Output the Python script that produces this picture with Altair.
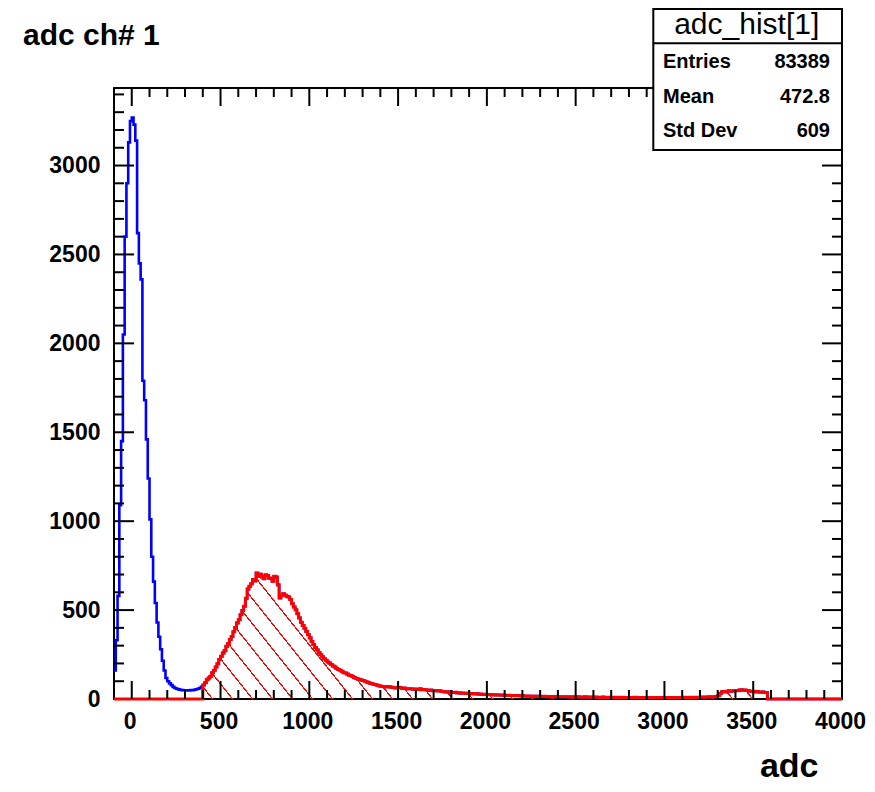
import math
import altair as alt
import pandas as pd

# ---------------- data ----------------
bin_start = -100
bin_width = 10
counts = [
    160, 330, 580, 1090, 1450, 2050, 2600, 2900, 3130, 3250,      # -100 .. -10
    3270, 3230, 3140, 2620, 2450, 2360, 1790, 1680, 1460, 1240,   # 0 .. 90
    1010, 800, 660, 540, 430, 350, 280, 215, 160, 118,            # 100 ..
    100, 88, 78, 68, 62, 58, 54, 52, 50, 49,                      # 200 ..
    48, 49, 48, 50, 50, 52, 55, 58, 62, 68,                       # 300 ..
    79, 92, 108, 118, 128, 148, 162, 180, 198, 222,               # 400 ..
    240, 258, 272, 296, 312, 334, 352, 378, 402, 428,             # 500 ..
    446, 474, 498, 522, 566, 618, 634, 648, 672, 664,             # 600 ..
    708, 690, 702, 686, 676, 698, 694, 680, 678, 662,             # 700 ..
    690, 686, 642, 568, 582, 592, 584, 578, 574, 560,             # 800 ..
    536, 518, 502, 480, 456, 432, 414, 398, 380, 362,             # 900 ..
    344, 324, 306, 290, 276, 262, 250, 238, 226, 218,             # 1000 ..
    208, 202, 194, 186, 180, 172, 166, 162, 156, 148,             # 1100 ..
    146, 140, 134, 132, 126, 120, 116, 112, 110, 106,             # 1200 ..
    104, 100, 96, 92, 88, 86, 82, 80, 77, 74,                     # 1300 ..
    72, 70, 69, 68, 70, 68, 66, 64, 62, 63,                       # 1400 ..
    66, 63, 60, 62, 59, 58, 57, 58, 55, 56,                       # 1500 ..
    54, 55, 57, 52, 54, 52, 50, 48, 50, 47,                       # 1600 ..
    46, 48, 45, 46, 43, 42, 40, 41, 38, 40,                       # 1700 ..
    37, 36, 38, 34, 35, 33, 34, 32, 31, 33,                       # 1800 ..
    30, 31, 29, 28, 30, 27, 28, 26, 27, 25,                       # 1900 ..
    26, 24, 25, 23, 24, 22, 23, 22, 21, 22,                       # 2000 ..
    21, 20, 21, 19, 20, 19, 18, 19, 18, 17,                       # 2100 ..
    18, 17, 16, 17, 16, 15, 16, 15, 16, 14,                       # 2200 ..
    15, 14, 15, 14, 13, 14, 13, 14, 13, 12,                       # 2300 ..
    13, 12, 13, 12, 13, 12, 11, 12, 11, 12,                       # 2400 ..
    11, 12, 11, 10, 11, 12, 10, 11, 10, 11,                       # 2500 ..
    10, 11, 10, 9, 10, 11, 9, 10, 9, 10,                          # 2600 ..
    9, 10, 9, 10, 8, 9, 10, 9, 8, 9,                              # 2700 ..
    9, 8, 9, 10, 8, 9, 8, 9, 8, 9,                                # 2800 ..
    8, 9, 8, 9, 8, 8, 9, 8, 9, 8,                                 # 2900 ..
    9, 8, 9, 8, 9, 9, 8, 9, 8, 9,                                 # 3000 ..
    9, 10, 9, 9, 10, 9, 10, 9, 10, 10,                            # 3100 ..
    10, 11, 10, 11, 11, 12, 11, 12, 13, 14,                       # 3200 ..
    18, 30, 40, 42, 40, 44, 46, 43, 45, 47,                       # 3300 ..
    48, 46, 50, 52, 49, 51, 48, 46, 44, 42,                       # 3400 ..
    44, 40, 42, 39, 38, 40, 37, 36, 0, 0,                         # 3500 ..
    0, 0, 0, 0, 0, 0, 0, 0, 0, 0,                                 # 3600 ..
    0, 0, 0, 0, 0, 0, 0, 0, 0, 0,                                 # 3700 ..
    0, 0, 0, 0, 0, 0, 0, 0, 0, 0,                                 # 3800 ..
    0, 0, 0, 0, 0, 0, 0, 0, 0, 0,                                 # 3900 ..
]
red_from = 400      # start of the red (hatched) selection
red_to = 3580       # end of the red selection

x_domain = [-100, 4000]
y_domain = [0, 3436]
x_label_values = [0, 500, 1000, 1500, 2000, 2500, 3000, 3500, 4000]
y_label_values = [0, 500, 1000, 1500, 2000, 2500, 3000]
x_major = [0, 500, 1000, 1500, 2000, 2500, 3000, 3500]
y_major = [500, 1000, 1500, 2000, 2500, 3000]
x_minor = [v for v in range(100, 4000, 100) if v % 500]
y_minor = [v for v in range(100, 3436, 100) if v % 500]

title_text = "adc ch# 1"
x_title = "adc"
stats_title = "adc_hist[1]"
stats_names = ["Entries", "Mean", "Std Dev"]
stats_values = ["83389", "472.8", "609"]

# ---------------- layout / style ----------------
PW, PH = 728, 611
FONT = "Liberation Sans"
BLUE = "#0000ff"
RED = "#ff0000"
CLEAR = "rgba(255,0,0,0)"

n = len(counts)
edges = [bin_start + bin_width * i for i in range(n)]
x_end = bin_start + bin_width * n
blue_df = pd.DataFrame({"x": edges + [x_end], "y": counts + [counts[-1]]})
red_vals = [c if red_from <= e < red_to else 0 for e, c in zip(edges, counts)]
red_line_df = pd.DataFrame({"x": edges + [x_end], "y": red_vals + [red_vals[-1]]})
area_x = [e for e in edges if red_from <= e < red_to]
area_y = [c for e, c in zip(edges, counts) if red_from <= e < red_to]
red_area_df = pd.DataFrame({"x": area_x + [red_to], "y": area_y + [area_y[-1]]})

# hatch pattern as a hard-stop linear gradient (objectBoundingBox units)
sx = PW / (x_domain[1] - x_domain[0])
sy = PH / (y_domain[1] - y_domain[0])
aw = (red_to - red_from) * sx
ah = max(area_y) * sy
m = 1.25          # slope of hatch lines (down-right)
spacing = 20.0    # horizontal spacing of hatch lines, px
lw = 1.3          # hatch line thickness, px
phase = 9.0
span = m * aw + ah
k = span / (m * m * aw * aw + ah * ah)
gx2 = k * m * aw
gy2 = 1 - k * ah
period = m * spacing / span
thick = lw * math.sqrt(m * m + 1) / span
stops = [alt.GradientStop(color=CLEAR, offset=0)]
p = m * phase / span
while p + thick < 1:
    a, b = round(p, 6), round(p + thick, 6)
    stops += [alt.GradientStop(color=CLEAR, offset=a), alt.GradientStop(color=RED, offset=a),
              alt.GradientStop(color=RED, offset=b), alt.GradientStop(color=CLEAR, offset=b)]
    p += period
stops.append(alt.GradientStop(color=CLEAR, offset=1))
hatch = alt.LinearGradient(gradient="linear", stops=stops, x1=0, y1=1, x2=gx2, y2=gy2)

xs = alt.Scale(domain=x_domain, nice=False, zero=False)
ys = alt.Scale(domain=y_domain, nice=False, zero=False)

x_axis = alt.Axis(values=x_label_values, format="d", title=x_title, ticks=False, domain=False, grid=False,
                  labelFont=FONT, labelFontWeight="bold", labelFontSize=23, labelColor="black",
                  labelPadding=11, labelOffset=-2, labelFlush=False, labelOverlap=False,
                  titleFont=FONT, titleFontWeight="bold", titleFontSize=34, titleColor="black",
                  titleX=704, titleY=77, titleAlign="right", titleBaseline="alphabetic",
                  titleAnchor="end")
y_axis = alt.Axis(values=y_label_values, format="d", title="", ticks=False, domain=False, grid=False,
                  labelFont=FONT, labelFontWeight="bold", labelFontSize=23, labelColor="black",
                  labelPadding=14, labelOverlap=False)

X = lambda f: alt.X(f, scale=xs, axis=x_axis)
Y = lambda f: alt.Y(f, scale=ys, axis=y_axis)

blue_line = alt.Chart(blue_df).mark_line(interpolate="step-after", color=BLUE, strokeWidth=2.6).encode(
    x=X("x:Q"), y=Y("y:Q"))
red_area = alt.Chart(red_area_df).mark_area(interpolate="step-after", fill=hatch).encode(
    x=X("x:Q"), y=Y("y:Q"))
red_line = alt.Chart(red_line_df).mark_line(interpolate="step-after", color=RED, strokeWidth=3).encode(
    x=X("x:Q"), y=Y("y:Q"))


def xticks(vals, length, top):
    y0, y1 = (0, length) if top else (PH, PH - length)
    return alt.Chart(pd.DataFrame({"x": vals})).mark_rule(color="black", strokeWidth=2).encode(
        x=X("x:Q"), y=alt.value(y0), y2=alt.value(y1))


def yticks(vals, length, right):
    x0, x1 = (PW, PW - length) if right else (0, length)
    return alt.Chart(pd.DataFrame({"y": vals})).mark_rule(color="black", strokeWidth=2).encode(
        y=Y("y:Q"), x=alt.value(x0), x2=alt.value(x1))


ticks = [xticks(x_major, 18, False), xticks(x_minor, 9, False),
         xticks(x_major, 18, True), xticks(x_minor, 9, True),
         yticks(y_major, 20, False), yticks(y_minor, 10, False),
         yticks(y_major, 20, True), yticks(y_minor, 10, True)]

one = pd.DataFrame({"k": [0]})


def label(text, x, y, size, weight="bold", align="left"):
    return alt.Chart(one).mark_text(text=text, align=align, baseline="alphabetic", font=FONT,
                                    fontSize=size, fontWeight=weight, color="black").encode(
        x=alt.value(x), y=alt.value(y))


box_l, box_r, box_t, box_b, box_sep = 539.3, 728, -79, 62, -44.7
stats_box = alt.Chart(one).mark_rect(fill="white", stroke="black", strokeWidth=2).encode(
    x=alt.value(box_l), x2=alt.value(box_r), y=alt.value(box_t), y2=alt.value(box_b))
stats_sep = alt.Chart(one).mark_rule(color="black", strokeWidth=2).encode(
    x=alt.value(box_l), x2=alt.value(box_r), y=alt.value(box_sep))

texts = [label(title_text, -91, -43.4, 30),
         label(stats_title, 632.7, -54.5, 30, weight="normal", align="center")]
row_y = [-19.7, 15.3, 48.7]
for name, val, yy in zip(stats_names, stats_values, row_y):
    texts.append(label(name, 549, yy, 20))
    texts.append(label(val, 716, yy, 20, align="right"))

chart = alt.layer(blue_line, red_area, red_line, *ticks, stats_box, stats_sep, *texts).properties(
    width=PW, height=PH,
    padding={"left": 106, "top": 80, "right": 25, "bottom": 85},
    autosize=alt.AutoSizeParams(type="none"),
    background="white",
).configure_view(stroke="black", strokeWidth=2)

chart.save("out.html", embed_options={"renderer": "svg", "actions": False})
